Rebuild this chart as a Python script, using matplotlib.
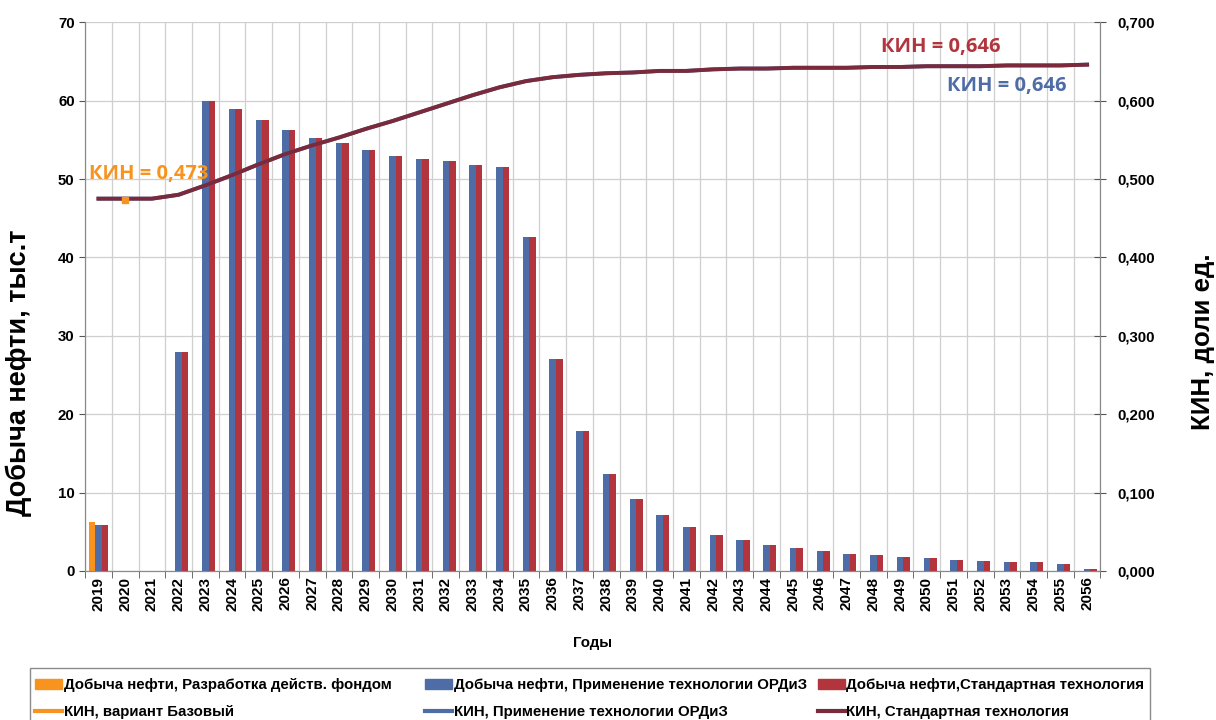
import numpy as np
import matplotlib.pyplot as plt
from matplotlib.patches import Patch, Rectangle
from matplotlib.lines import Line2D

plt.rcParams['font.family'] = ['Liberation Sans', 'DejaVu Sans']
plt.rcParams['font.weight'] = 'bold'

# Годы расчёта
years = list(range(2019, 2057))

# Добыча нефти, тыс.т
oil_base = [6.2] + [0.0] * 37
oil_ordiz = [5.9, 0.0, 0.0, 28.0, 60.0, 59.0, 57.5, 56.2, 55.3, 54.6,
             53.7, 53.0, 52.5, 52.3, 51.8, 51.6, 42.6, 27.1, 17.8, 12.4,
             9.2, 7.1, 5.6, 4.6, 3.9, 3.3, 2.9, 2.5, 2.2, 2.0,
             1.8, 1.6, 1.4, 1.3, 1.2, 1.1, 0.95, 0.2]
oil_std = list(oil_ordiz)

# КИН, доли ед.
kin_std = [0.475, 0.475, 0.475, 0.480, 0.492, 0.505, 0.519, 0.532, 0.543, 0.553,
           0.564, 0.574, 0.585, 0.596, 0.607, 0.617, 0.625, 0.630, 0.633, 0.635,
           0.636, 0.638, 0.638, 0.640, 0.641, 0.641, 0.642, 0.642, 0.642, 0.643,
           0.643, 0.644, 0.644, 0.644, 0.645, 0.645, 0.645, 0.646]
kin_ordiz = list(kin_std)
kin_base_year = 2020
kin_base = 0.473

c_orange = '#F7931E'
c_blue = '#4E6CA6'
c_red = '#B2343C'
c_line = '#7A2A3A'

fig = plt.figure(figsize=(12.16, 7.2), dpi=100)
ax = fig.add_axes([0.070, 0.207, 0.835, 0.762])
ax2 = ax.twinx()

x = np.arange(len(years))
w = 0.245
ax.bar(x - w, oil_base, w, color=c_orange, zorder=3)
ax.bar(x, oil_ordiz, w, color=c_blue, zorder=3)
ax.bar(x + w, oil_std, w, color=c_red, zorder=3)

ax.set_xlim(-0.5, len(years) - 0.5)
ax.set_ylim(0, 70)
ax.set_yticks(range(0, 71, 10))
ax.set_xticks(x)
ax.set_xticklabels([str(y) for y in years], rotation=90, fontsize=11, fontweight='bold')
ax.set_xticks(np.arange(-0.5, len(years), 1), minor=True)
ax.tick_params(axis='x', which='major', length=0, pad=4)
ax.tick_params(axis='x', which='minor', length=5, color='#555555')
ax.tick_params(axis='y', labelsize=10.8, length=4, color='#555555')
for lab in ax.get_yticklabels():
    lab.set_fontweight('bold')
ax.grid(axis='y', color='#cfcfcf', lw=0.9, zorder=0)
ax.grid(axis='x', which='minor', color='#cfcfcf', lw=0.9, zorder=0)
ax.set_axisbelow(True)

ax.set_ylabel('Добыча нефти, тыс.т', fontsize=19.5, fontweight='bold')
ax.yaxis.set_label_coords(-0.052, 0.362)
ax.set_xlabel('Годы', fontsize=10.8, fontweight='bold', labelpad=18)

# КИН на второй оси
ax2.plot(x, kin_ordiz, color=c_blue, lw=2.8, zorder=4)
ax2.plot(x, kin_std, color=c_line, lw=2.8, zorder=5)
ax2.plot([years.index(kin_base_year)], [kin_base], marker='s', ms=5,
         color=c_orange, ls='none', zorder=6)
ax2.set_ylim(0, 0.7)
ax2.set_yticks(np.arange(0, 0.71, 0.1))
ax2.set_yticklabels([f'{v:.3f}'.replace('.', ',') for v in np.arange(0, 0.71, 0.1)],
                    fontsize=10.8, fontweight='bold')
ax2.tick_params(axis='y', length=8, direction='inout', color='#555555', pad=8)
ax2.set_ylabel('КИН, доли ед.', fontsize=18.6, fontweight='bold')
ax2.yaxis.set_label_coords(1.0896, 0.417)

for a in (ax, ax2):
    for s in a.spines.values():
        s.set_color('#8a8a8a')
    a.spines['top'].set_visible(False)

ax2.text(-0.35, 0.494, 'КИН = 0,473', color=c_orange, fontsize=14.5,
         fontweight='bold', family='Open Sans', va='bottom')
ax2.text(29.3, 0.656, 'КИН = 0,646', color=c_red, fontsize=14.5,
         fontweight='bold', family='Open Sans', va='bottom')
ax2.text(31.75, 0.606, 'КИН = 0,646', color=c_blue, fontsize=14.5,
         fontweight='bold', family='Open Sans', va='bottom')

# легенда: три колонки по две строки в общей рамке
fig.add_artist(Rectangle((30 / 1216, -0.01), 1120 / 1216, (720 - 668) / 720 + 0.01,
                         transform=fig.transFigure, fill=False,
                         edgecolor='#8a8a8a', lw=1.0))
columns = [
    (35, [Patch(color=c_orange), Line2D([], [], color=c_orange, lw=3)],
     ['Добыча нефти, Разработка действ. фондом', 'КИН, вариант Базовый']),
    (425, [Patch(color=c_blue), Line2D([], [], color=c_blue, lw=3)],
     ['Добыча нефти, Применение технологии ОРДиЗ', 'КИН, Применение технологии ОРДиЗ']),
    (818, [Patch(color=c_red), Line2D([], [], color=c_line, lw=3)],
     ['Добыча нефти,Стандартная технология', 'КИН, Стандартная технология']),
]
for x0, hs, ls in columns:
    fig.legend(hs, ls, loc='upper left', bbox_to_anchor=((x0 - 6) / 1216, 1 - 672 / 720),
               frameon=False, prop={'size': 10.8, 'weight': 'bold'},
               handlelength=1.8, handletextpad=0.1, borderaxespad=0,
               borderpad=0.4, labelspacing=0.87)

fig.savefig('out.png', dpi=100)
